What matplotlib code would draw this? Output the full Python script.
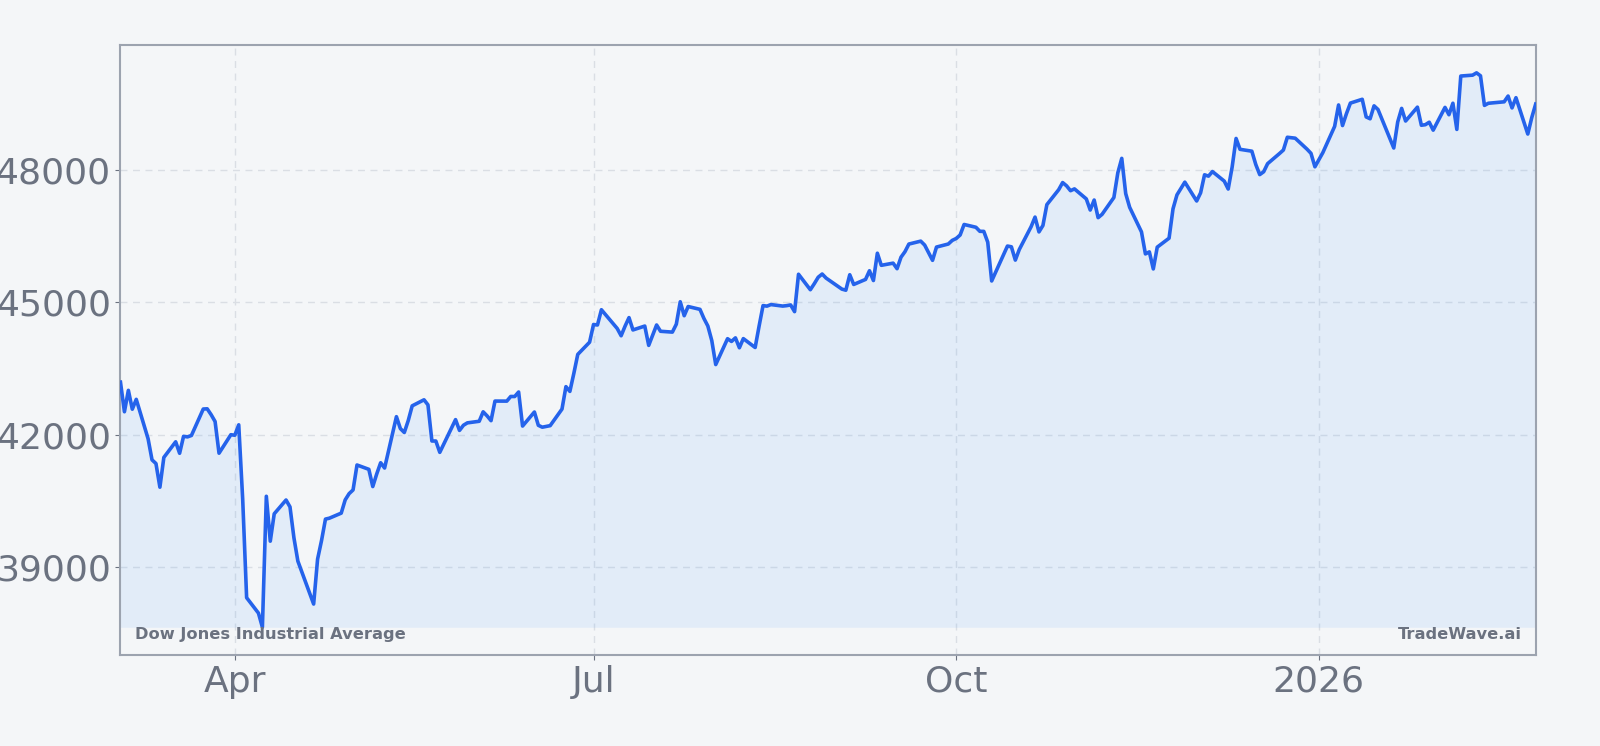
import matplotlib
matplotlib.use("Agg")
import matplotlib.pyplot as plt
import numpy as np
import pandas as pd

# ---- data ----
dates = [
    "2025-03-03","2025-03-04","2025-03-05","2025-03-06","2025-03-07","2025-03-10","2025-03-11","2025-03-12",
    "2025-03-13","2025-03-14","2025-03-17","2025-03-18","2025-03-19","2025-03-20","2025-03-21","2025-03-24",
    "2025-03-25","2025-03-26","2025-03-27","2025-03-28","2025-03-31","2025-04-01","2025-04-02","2025-04-03",
    "2025-04-04","2025-04-07","2025-04-08","2025-04-09","2025-04-10","2025-04-11","2025-04-14","2025-04-15",
    "2025-04-16","2025-04-17","2025-04-21","2025-04-22","2025-04-23","2025-04-24","2025-04-25","2025-04-28",
    "2025-04-29","2025-04-30","2025-05-01","2025-05-02","2025-05-05","2025-05-06","2025-05-07","2025-05-08",
    "2025-05-09","2025-05-12","2025-05-13","2025-05-14","2025-05-15","2025-05-16","2025-05-19","2025-05-20",
    "2025-05-21","2025-05-22","2025-05-23","2025-05-27","2025-05-28","2025-05-29","2025-05-30","2025-06-02",
    "2025-06-03","2025-06-04","2025-06-05","2025-06-06","2025-06-09","2025-06-10","2025-06-11","2025-06-12",
    "2025-06-13","2025-06-16","2025-06-17","2025-06-18","2025-06-20","2025-06-23","2025-06-24","2025-06-25",
    "2025-06-26","2025-06-27","2025-06-30","2025-07-01","2025-07-02","2025-07-03","2025-07-07","2025-07-08",
    "2025-07-09","2025-07-10","2025-07-11","2025-07-14","2025-07-15","2025-07-16","2025-07-17","2025-07-18",
    "2025-07-21","2025-07-22","2025-07-23","2025-07-24","2025-07-25","2025-07-28","2025-07-29","2025-07-30",
    "2025-07-31","2025-08-01","2025-08-04","2025-08-05","2025-08-06","2025-08-07","2025-08-08","2025-08-11",
    "2025-08-12","2025-08-13","2025-08-14","2025-08-15","2025-08-18","2025-08-19","2025-08-20","2025-08-21",
    "2025-08-22","2025-08-25","2025-08-26","2025-08-27","2025-08-28","2025-08-29","2025-09-02","2025-09-03",
    "2025-09-04","2025-09-05","2025-09-08","2025-09-09","2025-09-10","2025-09-11","2025-09-12","2025-09-15",
    "2025-09-16","2025-09-17","2025-09-18","2025-09-19","2025-09-22","2025-09-23","2025-09-24","2025-09-25",
    "2025-09-26","2025-09-29","2025-09-30","2025-10-01","2025-10-02","2025-10-03","2025-10-06","2025-10-07",
    "2025-10-08","2025-10-09","2025-10-10","2025-10-13","2025-10-14","2025-10-15","2025-10-16","2025-10-17",
    "2025-10-20","2025-10-21","2025-10-22","2025-10-23","2025-10-24","2025-10-27","2025-10-28","2025-10-29",
    "2025-10-30","2025-10-31","2025-11-03","2025-11-04","2025-11-05","2025-11-06","2025-11-07","2025-11-10",
    "2025-11-11","2025-11-12","2025-11-13","2025-11-14","2025-11-17","2025-11-18","2025-11-19","2025-11-20",
    "2025-11-21","2025-11-24","2025-11-25","2025-11-26","2025-11-28","2025-12-01","2025-12-02","2025-12-03",
    "2025-12-04","2025-12-05","2025-12-08","2025-12-09","2025-12-10","2025-12-11","2025-12-12","2025-12-15",
    "2025-12-16","2025-12-17","2025-12-18","2025-12-19","2025-12-22","2025-12-23","2025-12-24","2025-12-26",
    "2025-12-29","2025-12-30","2025-12-31","2026-01-02","2026-01-05","2026-01-06","2026-01-07","2026-01-08",
    "2026-01-09","2026-01-12","2026-01-13","2026-01-14","2026-01-15","2026-01-16","2026-01-20","2026-01-21",
    "2026-01-22","2026-01-23","2026-01-26","2026-01-27","2026-01-28","2026-01-29","2026-01-30","2026-02-02",
    "2026-02-03","2026-02-04","2026-02-05","2026-02-06","2026-02-09","2026-02-10","2026-02-11","2026-02-12",
    "2026-02-13","2026-02-17","2026-02-18","2026-02-19","2026-02-20","2026-02-23","2026-02-24","2026-02-25",
]
values = [
    43191, 42521, 43006, 42579, 42802, 41912, 41433, 41350,
    40814, 41488, 41842, 41582, 41965, 41953, 41985, 42583,
    42588, 42455, 42300, 41584, 42002, 41990, 42226, 40546,
    38315, 37966, 37646, 40609, 39594, 40213, 40525, 40369,
    39669, 39142, 38171, 39187, 39607, 40093, 40114, 40228,
    40527, 40669, 40753, 41317, 41219, 40829, 41114, 41368,
    41249, 42410, 42141, 42052, 42323, 42655, 42792, 42677,
    41860, 41859, 41603, 42343, 42099, 42216, 42270, 42306,
    42520, 42428, 42320, 42763, 42762, 42867, 42866, 42968,
    42198, 42516, 42215, 42172, 42207, 42582, 43089, 42982,
    43387, 43819, 44095, 44495, 44484, 44829, 44406, 44241,
    44458, 44651, 44372, 44460, 44023, 44255, 44484, 44342,
    44323, 44502, 45010, 44694, 44902, 44838, 44633, 44461,
    44131, 43589, 44174, 44112, 44193, 43969, 44176, 43975,
    44459, 44922, 44911, 44946, 44912, 44922, 44938, 44786,
    45632, 45282, 45418, 45565, 45637, 45545, 45296, 45271,
    45621, 45401, 45515, 45711, 45490, 46108, 45834, 45883,
    45758, 46018, 46142, 46315, 46381, 46292, 46121, 45947,
    46247, 46316, 46398, 46441, 46520, 46758, 46695, 46603,
    46602, 46358, 45480, 46068, 46270, 46253, 45952, 46191,
    46707, 46925, 46590, 46735, 47207, 47545, 47706, 47632,
    47522, 47563, 47337, 47085, 47311, 46912, 46987, 47368,
    47927, 48254, 47457, 47147, 46590, 46092, 46138, 45752,
    46245, 46448, 47112, 47427, 47716, 47289, 47474, 47882,
    47851, 47955, 47739, 47560, 48057, 48704, 48458, 48416,
    48114, 47886, 47951, 48134, 48362, 48442, 48731, 48710,
    48461, 48367, 48063, 48382, 48977, 49462, 48996, 49266,
    49504, 49590, 49191, 49149, 49442, 49359, 48488, 49077,
    49384, 49098, 49412, 49003, 49015, 49071, 48892, 49407,
    49241, 49501, 48909, 50116, 50136, 50188, 50121, 49452,
    49500, 49533, 49663, 49395, 49626, 48804, 49174, 49482,
]
tick_dates = ["2025-04-01", "2025-07-01", "2025-10-01", "2026-01-01"]
tick_labels = ["Apr", "Jul", "Oct", "2026"]
y_ticks = [39000, 42000, 45000, 48000]
series_name = "Dow Jones Industrial Average"
brand = "TradeWave.ai"

# ---- styling ----
BG = "#f4f6f8"
LINE = "#2563eb"
FILL = "#60a5fa"
TXT = "#6b7280"
SPINE = "#9ca3af"
GRID = "#dadee4"

x = pd.to_datetime(dates)
y = np.array(values, dtype=float)

fig = plt.figure(figsize=(16, 7.46), dpi=100, facecolor=BG)
ax = fig.add_axes([0.0753, 0.122, 0.8845, 0.8175])
ax.set_facecolor(BG)

ax.fill_between(x, y, y.min(), color=FILL, alpha=0.12, linewidth=0, zorder=1)
ax.plot(x, y, color=LINE, linewidth=2.6, zorder=3, solid_joinstyle="round")

ax.margins(x=0, y=0.05)

ax.set_xticks(pd.to_datetime(tick_dates))
ax.set_xticklabels(tick_labels)
ax.set_yticks(y_ticks)
ax.set_yticklabels([str(v) for v in y_ticks])

ax.tick_params(axis="both", labelsize=26, colors=TXT, length=3.5, width=0.8)
for lbl in ax.get_xticklabels() + ax.get_yticklabels():
    lbl.set_color(TXT)

ax.grid(True, linestyle=(0, (5, 4)), color=GRID, linewidth=1.0, zorder=0)
ax.set_axisbelow(True)

for s in ax.spines.values():
    s.set_color(SPINE)
    s.set_linewidth(1.5)

ax.text(0.01, 0.022, series_name, transform=ax.transAxes, fontsize=11.7,
        fontweight="bold", color=TXT, ha="left", va="bottom", zorder=4)
ax.text(0.99, 0.022, brand, transform=ax.transAxes, fontsize=11.7,
        fontweight="bold", color=TXT, ha="right", va="bottom", zorder=4)

fig.savefig("out.png", dpi=100, facecolor=BG)
